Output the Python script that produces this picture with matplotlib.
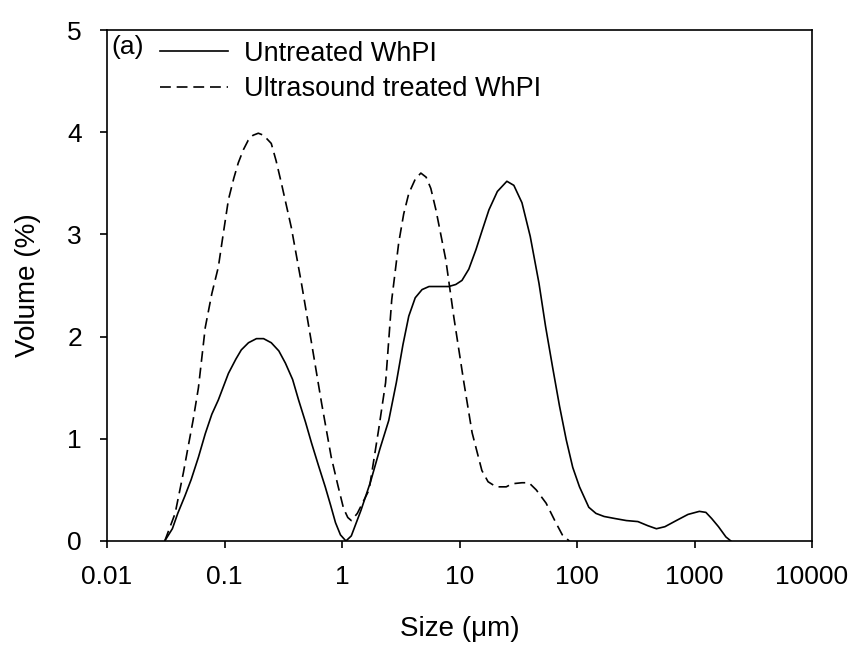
import matplotlib
matplotlib.use("Agg")
import matplotlib.pyplot as plt

plt.rcParams['font.family'] = ['Liberation Sans', 'DejaVu Sans']

# Untreated WhPI (solid)
size_untreated = [0.031, 0.036, 0.040, 0.046, 0.052, 0.060, 0.0686, 0.078, 0.0886, 0.108, 0.125,
                  0.139, 0.16, 0.187, 0.215, 0.25, 0.29, 0.33, 0.38,
                  0.427, 0.49, 0.55, 0.63, 0.72, 0.80, 0.88, 0.97, 1.08, 1.2, 1.45, 1.75, 2.1,
                  2.5, 2.9, 3.3, 3.7, 4.2, 4.8, 5.5, 8.1, 9.3, 10.5, 12, 13.8, 15.5, 17.8, 21,
                  25.3, 29, 34, 40, 47.5, 54, 62, 71, 81, 92, 105, 126, 145, 170, 210, 263, 330,
                  400, 474, 560, 700, 880, 1100, 1250, 1400, 1600, 1850, 2040]
vol_untreated = [0.0, 0.12, 0.27, 0.44, 0.6, 0.82, 1.05, 1.24, 1.38, 1.64, 1.78,
                 1.87, 1.94, 1.98, 1.98, 1.94, 1.86, 1.74, 1.58,
                 1.38, 1.16, 0.96, 0.74, 0.53, 0.35, 0.18, 0.06, 0.0, 0.05, 0.3, 0.58, 0.9,
                 1.18, 1.55, 1.92, 2.2, 2.38, 2.46, 2.49, 2.49, 2.51, 2.55, 2.66, 2.85, 3.03, 3.24, 3.42,
                 3.52, 3.48, 3.31, 2.98, 2.52, 2.1, 1.70, 1.32, 0.99, 0.72, 0.53, 0.33, 0.27, 0.24, 0.22, 0.2, 0.19,
                 0.15, 0.12, 0.14, 0.2, 0.26, 0.29, 0.28, 0.22, 0.14, 0.04, 0.0]

# Ultrasound treated WhPI (dashed)
size_treated = [0.031, 0.038, 0.0447, 0.049, 0.054, 0.060, 0.0686, 0.078, 0.0886, 0.098, 0.108,
                0.12, 0.131, 0.145, 0.159, 0.175, 0.194, 0.215, 0.25, 0.275, 0.305, 0.37, 0.452,
                0.55, 0.67, 0.81, 0.92, 1.03, 1.12, 1.2, 1.35,
                1.7, 2.05, 2.35, 2.65, 3.04, 3.35, 3.7, 4.2, 4.69, 5.2, 5.7, 6.3, 7.65, 8.95,
                10.9, 12.8, 15.5, 17.5, 20.5, 25, 28, 34, 39, 45, 54.6, 66, 75, 86]
vol_treated = [0.0, 0.27, 0.67, 0.92, 1.18, 1.5, 2.09, 2.42, 2.68, 3.02, 3.34,
               3.55, 3.70, 3.83, 3.92, 3.97, 3.99, 3.97, 3.89, 3.72, 3.5, 3.07, 2.52,
               1.94, 1.35, 0.82, 0.55, 0.32, 0.23, 0.2, 0.27,
               0.5, 1.09, 1.55, 2.36, 2.92, 3.2, 3.4, 3.54, 3.6, 3.56, 3.45, 3.24, 2.75, 2.19,
               1.55, 1.06, 0.69, 0.58, 0.53, 0.53, 0.56, 0.57, 0.57, 0.5, 0.37, 0.18, 0.06, 0.0]

xticks = [0.01, 0.1, 1, 10, 100, 1000, 10000]
xtick_labels = ["0.01", "0.1", "1", "10", "100", "1000", "10000"]
yticks = [0, 1, 2, 3, 4, 5]

fig = plt.figure(figsize=(8.6, 6.5), dpi=100)
ax = fig.add_axes([107 / 860, 1 - 541 / 650, 705 / 860, 511 / 650])

ax.plot(size_untreated, vol_untreated, color='black', lw=1.2, label='Untreated WhPI')
ax.plot(size_treated, vol_treated, color='black', lw=1.2, dashes=(6.5, 3.5),
        label='Ultrasound treated WhPI')

ax.set_xscale('log')
ax.set_xlim(0.01, 10000)
ax.set_ylim(0, 5)
ax.set_xticks(xticks)
ax.set_xticklabels(xtick_labels)
ax.set_yticks(yticks)
ax.minorticks_off()
ax.tick_params(direction='out', length=5, width=1.2, labelsize=19)
ax.tick_params(axis='x', pad=12)
ax.tick_params(axis='y', pad=13)
for s in ax.spines.values():
    s.set_linewidth(1.2)

ax.set_xlabel('Size (\u03bcm)', fontsize=20, labelpad=20)
ax.set_ylabel('Volume (%)', fontsize=20, labelpad=19)

ax.text(0.006, 0.99, '(a)', transform=ax.transAxes, fontsize=19, va='top', ha='left')
ax.legend(loc='upper left', bbox_to_anchor=(0.041, 1.027), frameon=False, fontsize=19.5,
          handlelength=2.5, handletextpad=0.6, labelspacing=0.35, borderpad=0.4)

fig.savefig('out.png', dpi=100)
